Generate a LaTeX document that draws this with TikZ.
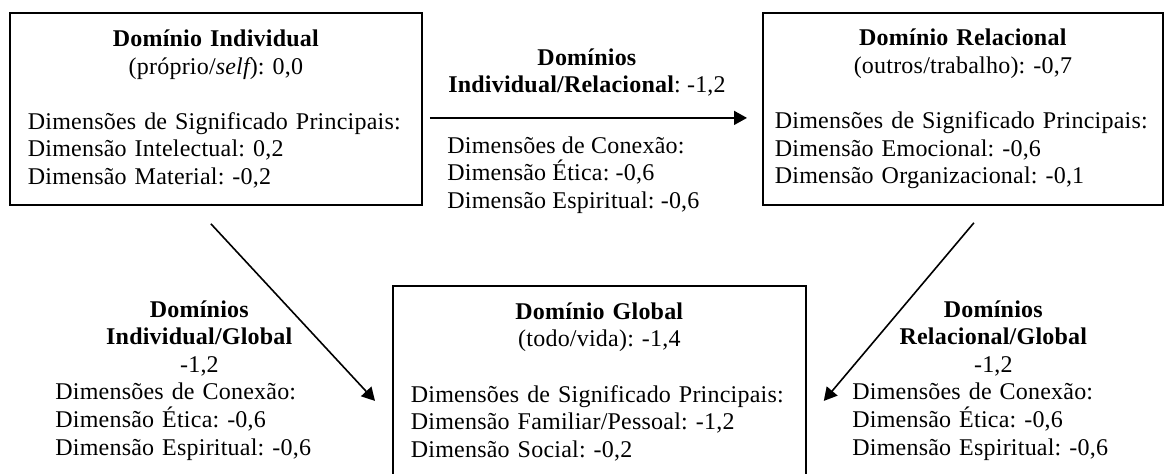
\documentclass[tikz,border=0pt]{standalone}
\usepackage{fontspec}
\setmainfont{Liberation Serif}[LetterSpace=0.9]
\usetikzlibrary{arrows.meta}
\frenchspacing

\begin{document}
\begin{tikzpicture}[x=0.5pt,y=-0.5pt,
  font=\fontsize{12pt}{13.8pt}\selectfont,
  domainbox/.style={draw, line width=0.9pt, anchor=north west, inner xsep=9pt, inner ysep=0pt, minimum height=96pt},
  linklabel/.style={inner sep=0pt, anchor=north west},
  link/.style={-{Triangle[length=6.5pt,width=7pt]}, line width=0.8pt}]
  \useasboundingbox (0,0) rectangle (1166,473);
  % domains
  \node[domainbox, text width=188pt] (indiv) at (9,12) {{\centering\textbf{Domínio Individual}\\(próprio/{\itshape self}): 0,0\par}\vspace{13.8pt}\raggedright Dimensões de Significado Principais:\\Dimensão Intelectual: 0,2\\Dimensão Material: -0,2};
  \node[domainbox, text width=188pt, inner xsep=6pt] (relac) at (762,12) {{\centering\textbf{Domínio Relacional}\\(outros/trabalho): -0,7\par}\vspace{13.8pt}\raggedright Dimensões de Significado Principais:\\Dimensão Emocional: -0,6\\Dimensão Organizacional: -0,1};
  % bottom edge of this one runs off the page
  \node[domainbox, text width=188.5pt, minimum height=104pt] (global) at (392,285) {{\centering\textbf{Domínio Global}\\(todo/vida): -1,4\par}\vspace{13.8pt}\raggedright Dimensões de Significado Principais:\\Dimensão Familiar/Pessoal: -1,2\\Dimensão Social: -0,2\rule[-10pt]{0pt}{1pt}};
  % connections
  \node[linklabel, anchor=north, align=center] (irname) at (587,48) {\textbf{Domínios}\\\textbf{Individual/Relacional}: -1,2};
  \node[linklabel, align=left] (irdims) at (447,136) {Dimensões de Conexão:\\Dimensão Ética: -0,6\\Dimensão Espiritual: -0,6};
  \node[linklabel, text width=144pt] (iglabel) at (55,300) {{\centering\textbf{Domínios}\\\textbf{Individual/Global}\\-1,2\par}\raggedright Dimensões de Conexão:\\Dimensão Ética: -0,6\\Dimensão Espiritual: -0,6};
  \node[linklabel, text width=141pt] (rglabel) at (852,300) {{\centering\textbf{Domínios}\\\textbf{Relacional/Global}\\-1,2\par}\raggedright Dimensões de Conexão:\\Dimensão Ética: -0,6\\Dimensão Espiritual: -0,6};
  \draw[link] ([xshift=3.5pt,yshift=-4.5pt]indiv.east) -- ([xshift=-7.5pt,yshift=-4.5pt]relac.west);
  \draw[link] ([xshift=-2.5pt,yshift=-9pt]indiv.south) -- ([xshift=-8.5pt,yshift=-5.5pt]global.west);
  \draw[link] ([xshift=5.5pt,yshift=-8.5pt]relac.south) -- ([xshift=8.5pt,yshift=-5.5pt]global.east);
\end{tikzpicture}
\end{document}
